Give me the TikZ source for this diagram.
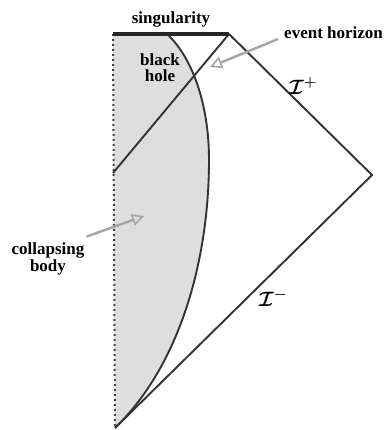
\documentclass[tikz,border=0pt]{standalone}
\usepackage{fontspec}
\setmainfont{Liberation Serif}
\usetikzlibrary{arrows.meta}
\definecolor{bodygray}{RGB}{222,222,222}
\definecolor{pointergray}{RGB}{165,165,165}
\tikzset{
  lbl/.style={font=\fontsize{17}{19}\selectfont\bfseries, inner sep=0pt, align=center},
  scri/.style={font=\fontsize{20}{22}\selectfont\boldmath, inner sep=0pt},
  edge/.style={line width=1.9pt, draw=black!80},
  ptr/.style={draw=pointergray, line width=2.4pt, -{Triangle[open, length=12pt, width=12pt, line width=1.6pt]}},
}
\begin{document}
\begin{tikzpicture}[x=1pt,y=-1pt]
\useasboundingbox (0,0) rectangle (387,430);
% key points
\coordinate (TL) at (113,34);
\coordinate (TR) at (229,34);
\coordinate (R) at (372,175);
\coordinate (B) at (115,428);
\coordinate (EH) at (113,173);
\coordinate (ST) at (167,34);
\coordinate (SM) at (209,160);
% shaded collapsing body
\fill[bodygray] (TL) -- (ST) .. controls (190,55) and (209,100) .. (SM)
  .. controls (209,260) and (180,365) .. (B) -- cycle;
\draw[edge] (ST) .. controls (190,55) and (209,100) .. (SM)
  .. controls (209,260) and (180,365) .. (B);
% dotted centre line
\draw[line width=2pt, dash pattern=on 2pt off 3pt, draw=black!75] (TL) -- (B);
% null boundaries
\draw[edge] (TR) -- (R) -- (B);
\draw[edge] (TR) -- (EH);
% singularity
\draw[line width=3.8pt, draw=black!85] (TL) -- (TR);
% labels
\node[lbl] (sing) at (171,19) {singularity};
\node[lbl] (bh) at (160,68) {black\\[-3pt]hole};
\node[lbl, anchor=west] (evh) at (284,33) {event horizon};
\node[lbl] (cb) at (48,259) {collapsing\\[-2pt]body};
\node[scri] (ip) at (303,86) {$\mathcal{I}^{+}$};
\node[scri] (im) at (273,298) {$\mathcal{I}^{-}$};
% pointers
\coordinate (ehtip) at (210,67);
\coordinate (cbtip) at (144,216);
\draw[ptr] (evh.west) ++(-6,6) -- (ehtip);
\draw[ptr] (cb.north east) ++(2,-6) -- (cbtip);
\end{tikzpicture}
\end{document}
